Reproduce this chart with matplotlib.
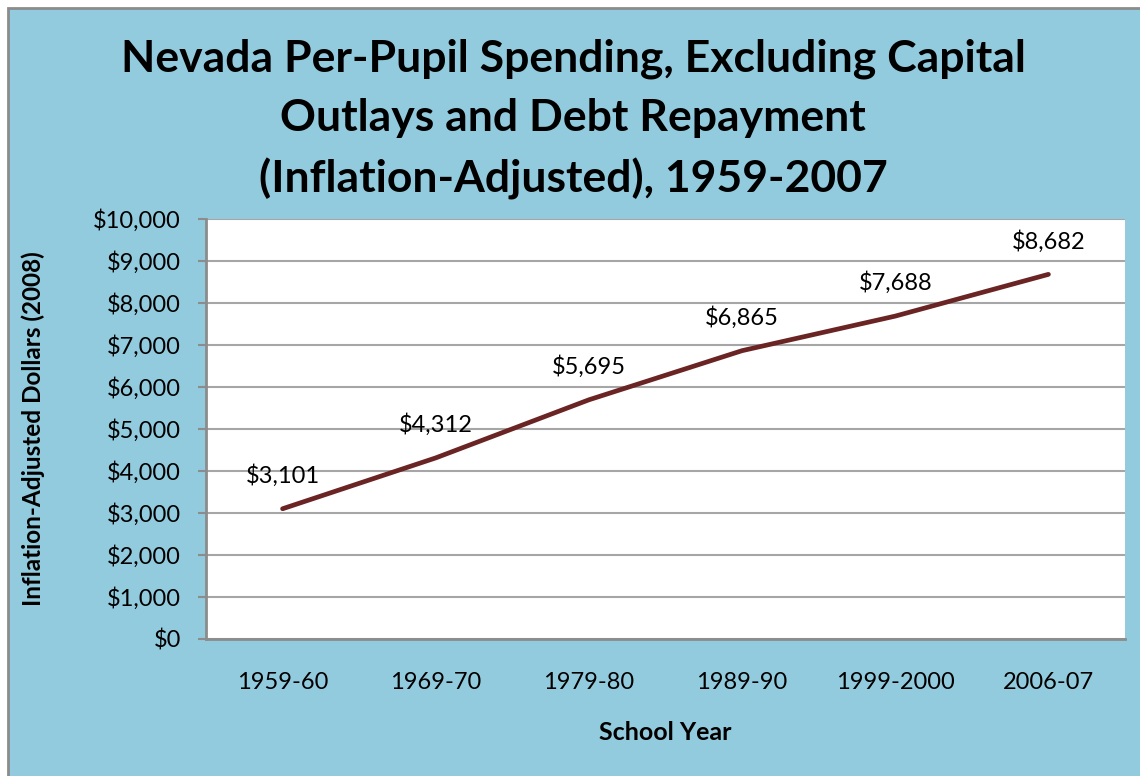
import matplotlib.pyplot as plt
import matplotlib.patches as patches
from matplotlib.ticker import FuncFormatter

# chart data
years = ['1959-60', '1969-70', '1979-80', '1989-90', '1999-2000', '2006-07']
spending = [3101, 4312, 5695, 6865, 7688, 8682]
y_ticks = list(range(0, 10001, 1000))

plt.rcParams['font.family'] = ['Lato', 'DejaVu Sans']

bg = '#92cbdd'
fig = plt.figure(figsize=(11.4, 7.76), dpi=100)
fig.patch.set_facecolor('white')
# blue chart area with grey frame
fig.patches.append(patches.Rectangle((8 / 1140, -0.05), 1.1, (776 - 8) / 776 + 0.05,
                                     transform=fig.transFigure, facecolor=bg,
                                     edgecolor='#8c8c8c', linewidth=2, zorder=-10))

ax = fig.add_axes([206 / 1140, 137 / 776, 919 / 1140, 420 / 776])
ax.set_facecolor('white')

x = list(range(len(years)))
ax.plot(x, spending, color='#6b2424', linewidth=3.4, solid_capstyle='round', zorder=3)
for xi, v in zip(x, spending):
    ax.annotate(f'${v:,}', (xi, v), xytext=(0, 24), textcoords='offset points',
                ha='center', va='center', fontsize=17)

ax.set_xlim(-0.5, len(years) - 0.5)
ax.set_ylim(0, 10000)
ax.set_xticks(x)
ax.set_xticklabels(years, fontsize=17)
ax.tick_params(axis='x', length=0, pad=24)
ax.set_yticks(y_ticks)
ax.yaxis.set_major_formatter(FuncFormatter(lambda v, p: f'${v:,.0f}'))
ax.tick_params(axis='y', labelsize=17, length=6, width=1.5, color='#8c8c8c', pad=12)
ax.grid(axis='y', color='#a6a6a6', linewidth=1.5)
ax.set_axisbelow(True)
for s in ['top', 'right']:
    ax.spines[s].set_visible(False)
for s in ['left', 'bottom']:
    ax.spines[s].set_color('#8c8c8c')
    ax.spines[s].set_linewidth(2)

fig.text(665 / 1140, 1 - 733 / 776, 'School Year', ha='center', va='center',
         fontsize=18, fontweight='bold')
fig.text(33 / 1140, 1 - 429 / 776, 'Inflation-Adjusted Dollars (2008)', ha='center',
         va='center', rotation=90, fontsize=17.5, fontweight='bold')

fig.text(573 / 1140, 1 - 119 / 776,
         'Nevada Per-Pupil Spending, Excluding Capital\nOutlays and Debt Repayment\n(Inflation-Adjusted), 1959-2007',
         ha='center', va='center', fontsize=32, fontweight='bold', linespacing=1.57)

fig.savefig('out.png', dpi=100, facecolor=fig.get_facecolor())
